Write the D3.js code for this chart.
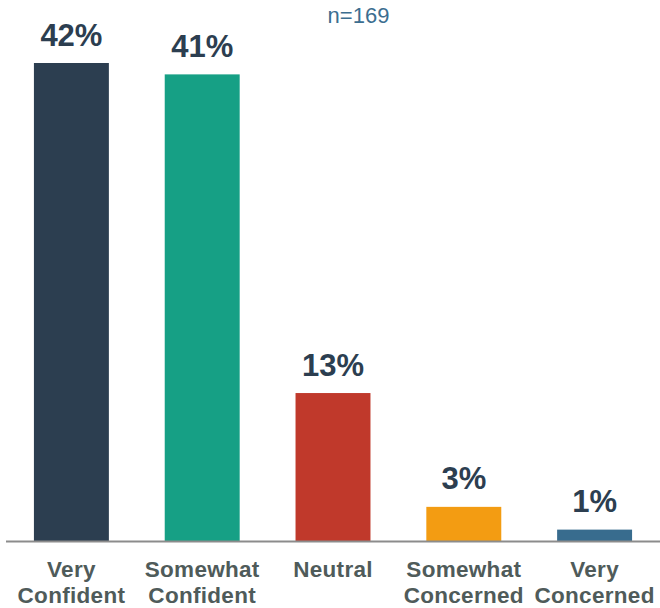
<!DOCTYPE html>
<html><head><meta charset="utf-8">
<script src="https://cdn.jsdelivr.net/npm/d3@7"></script>
<style>body{margin:0;background:#fff}svg{display:block}</style>
</head><body>
<svg id="c" width="660" height="608"></svg>
<script>
const categories = [["Very","Confident"],["Somewhat","Confident"],["Neutral"],["Somewhat","Concerned"],["Very","Concerned"]];
const values = [42, 41, 13, 3, 1];
const colors = ["#2C3E50","#16A085","#C0392B","#F39C12","#386C8E"];
const sampleLabel = "n=169";

const svg = d3.select("#c");
const keys = categories.map(c => c.join(" "));
const x = d3.scaleBand().domain(keys).range([6, 660]).paddingInner(0.427).paddingOuter(0.2135);
const y = d3.scaleLinear().domain([0, 42]).range([541, 63]);

svg.selectAll("rect.bar").data(values).enter().append("rect")
  .attr("class","bar")
  .attr("x",(d,i)=>x(keys[i]))
  .attr("width",x.bandwidth())
  .attr("y",d=>y(d))
  .attr("height",d=>y(0)-y(d))
  .attr("fill",(d,i)=>colors[i]);

svg.append("line").attr("x1",6).attr("x2",660).attr("y1",y(0)+0.5).attr("y2",y(0)+0.5)
  .attr("stroke","#8c8c8c").attr("stroke-width",2);

svg.selectAll("text.val").data(values).enter().append("text")
  .attr("x",(d,i)=>x(keys[i])+x.bandwidth()/2)
  .attr("y",d=>y(d)-17.5)
  .attr("text-anchor","middle")
  .attr("font-family","'Liberation Sans', Arial, sans-serif")
  .attr("font-weight","bold").attr("font-size",31)
  .attr("fill","#2C3E50")
  .text(d=>d+"%");

categories.forEach((c,i)=>{
  const t = svg.append("text")
    .attr("text-anchor","middle")
    .attr("font-family","'Liberation Sans', Arial, sans-serif")
    .attr("font-weight","bold").attr("font-size",22.5)
    .attr("letter-spacing",0.3)
    .attr("fill","#4F5B5A");
  c.forEach((line,j)=>{
    t.append("tspan").attr("x",x(keys[i])+x.bandwidth()/2).attr("y",577+26*j).text(line);
  });
});

svg.append("text").attr("x",358.5).attr("y",23).attr("text-anchor","middle")
  .attr("font-family","'Liberation Sans', Arial, sans-serif").attr("font-size",22)
  .attr("fill","#3C6E90").text(sampleLabel);
</script>
</body></html>
